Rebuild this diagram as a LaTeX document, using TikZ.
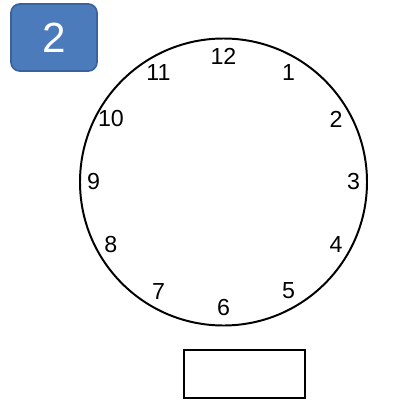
\documentclass[tikz,border=0pt]{standalone}
\usepackage{fontspec}
\setmainfont{Liberation Sans}
\usepackage{tikz}
\usetikzlibrary{positioning,calc}
\definecolor{badgefill}{HTML}{4C7BBC}
\definecolor{badgeedge}{HTML}{3A639E}

\tikzset{
  badge/.style={draw=badgeedge, line width=1.2pt, fill=badgefill, rounded corners=0.22cm,
    minimum width=2.15cm, minimum height=1.675cm, text=white, font=\fontsize{30}{32}\selectfont},
  hour/.style={inner sep=0pt, font=\fontsize{16.5}{18}\selectfont},
  answerbox/.style={draw, line width=1.4pt, minimum width=3.025cm, minimum height=1.2cm}
}

\begin{document}
\begin{tikzpicture}[x=0.025cm, y=-0.025cm]
    \useasboundingbox (0,0) rectangle (399,403);
    \node[badge] (number) at (54,37.5) {2};
    % clock face
    \coordinate (centre) at (223.5,182);
    \draw[line width=1.4pt] (centre) circle (143.5);
    \foreach \h in {1,...,12} {
      \node[hour] (h\h) at ($(centre)+({130*cos(\h*30-90)},{126*sin(\h*30-90)})$) {\h};
    }
    \node[answerbox] (answer) at (244.5,374) {};
  \end{tikzpicture}
\end{document}
